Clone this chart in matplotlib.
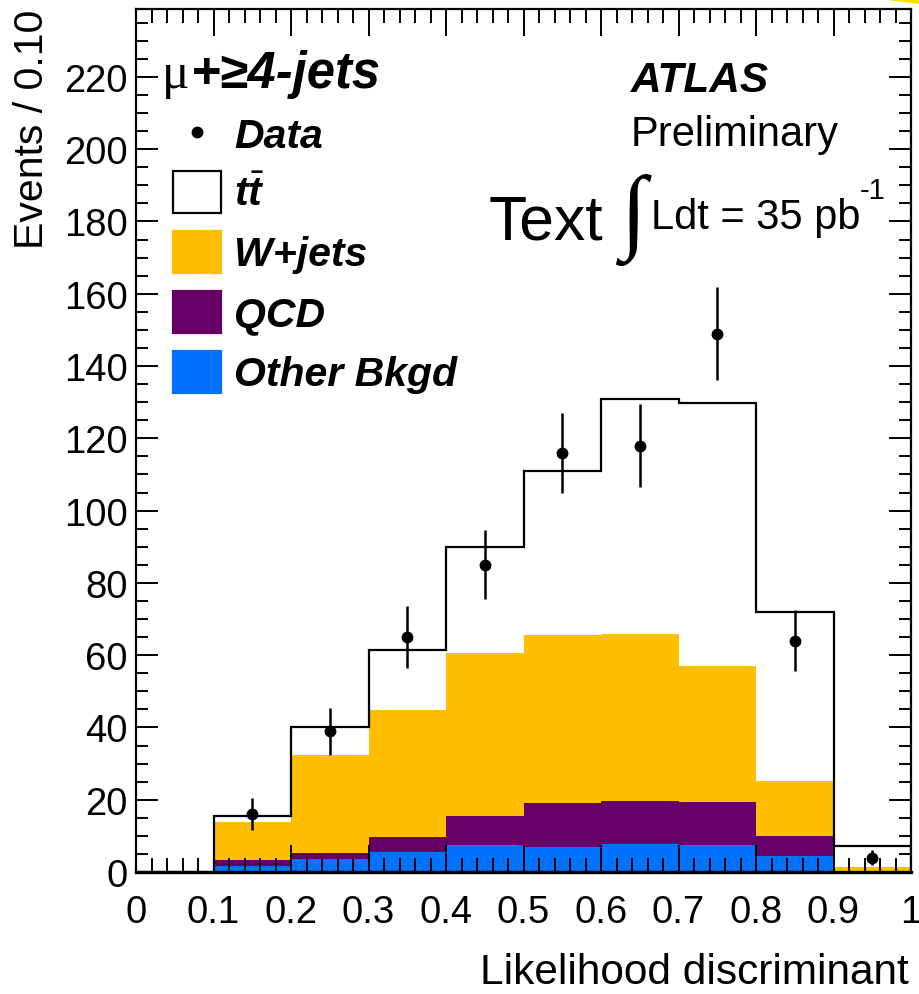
"""Stacked likelihood-discriminant histogram, mu + >=4 jets channel."""

import matplotlib

matplotlib.use("Agg")
import matplotlib.pyplot as plt
import numpy as np
from matplotlib.patches import Polygon, Rectangle
from matplotlib.ticker import FuncFormatter, MultipleLocator

W, H = 919, 995

plt.rcParams["font.family"] = ["Liberation Sans", "DejaVu Sans"]
plt.rcParams["mathtext.fontset"] = "custom"
plt.rcParams["mathtext.rm"] = "Liberation Sans"
plt.rcParams["mathtext.it"] = "Liberation Sans:bold:italic"

# --- data ------------------------------------------------------------------
edges = [0.0, 0.1, 0.2, 0.3, 0.4, 0.5, 0.6, 0.7, 0.8, 0.9, 1.0]
other_bkgd = [0.0, 1.7, 3.6, 5.4, 7.6, 7.0, 7.7, 7.5, 4.5, 0.0]
qcd = [0.0, 1.6, 1.7, 4.2, 8.0, 12.1, 11.9, 11.9, 5.5, 0.0]
wjets = [0.0, 10.5, 27.1, 35.2, 45.0, 46.5, 46.3, 37.6, 15.2, 1.3]
ttbar = [0.0, 1.7, 7.7, 16.6, 29.3, 45.4, 65.0, 72.8, 46.7, 5.9]

data_x = [0.15, 0.25, 0.35, 0.45, 0.55, 0.65, 0.75, 0.85, 0.95]
data_y = [16, 39, 65, 85, 116, 118, 149, 64, 4]
data_err = [4.5, 6.5, 8.5, 9.5, 11.0, 11.5, 12.8, 8.5, 2.0]

legend_labels = ["Data", r"$t\bar{t}$", "W+jets", "QCD", "Other Bkgd"]
colors = {"wjets": "#FFBE00", "qcd": "#660066", "other": "#0072FF"}


def fx(px):
    return px / W


def fy(py):
    return 1 - py / H


fig = plt.figure(figsize=(W / 100, H / 100), dpi=100)
ax = fig.add_axes([fx(136), fy(873), fx(911) - fx(136), fy(10) - fy(873)])

# --- stacked histogram -----------------------------------------------------
lefts = np.array(edges[:-1])
b0 = np.zeros(len(lefts))
ax.bar(lefts, other_bkgd, width=0.1, bottom=b0, align="edge",
       color=colors["other"], linewidth=0, zorder=1)
b1 = b0 + np.array(other_bkgd)
ax.bar(lefts, qcd, width=0.1, bottom=b1, align="edge",
       color=colors["qcd"], linewidth=0, zorder=1)
b2 = b1 + np.array(qcd)
ax.bar(lefts, wjets, width=0.1, bottom=b2, align="edge",
       color=colors["wjets"], linewidth=0, zorder=1)
b3 = b2 + np.array(wjets)
total = b3 + np.array(ttbar)
ax.stairs(total, edges, color="black", linewidth=1.6, zorder=2)

ax.errorbar(data_x, data_y, yerr=data_err, fmt="o", color="black",
            markersize=7.5, elinewidth=1.8, capsize=0, zorder=4)

# --- axes styling ----------------------------------------------------------
ax.set_xlim(0, 1)
ax.set_ylim(0, 238.8)
ax.xaxis.set_major_locator(MultipleLocator(0.1))
ax.xaxis.set_minor_locator(MultipleLocator(0.02))
ax.yaxis.set_major_locator(MultipleLocator(20))
ax.yaxis.set_minor_locator(MultipleLocator(5))
ax.xaxis.set_major_formatter(FuncFormatter(lambda v, _: f"{v:.1f}".rstrip("0").rstrip(".") if v else "0"))
ax.tick_params(axis="both", which="both", direction="in", top=True, right=True,
               width=1.4, labelsize=27.5)
ax.tick_params(axis="x", which="major", length=19.5, pad=16)
ax.tick_params(axis="x", which="minor", length=10)
ax.tick_params(axis="y", which="major", length=16, pad=6)
ax.tick_params(axis="y", which="minor", length=8.6)
for s in ax.spines.values():
    s.set_linewidth(1.6)
ax.spines["bottom"].set_linewidth(2.4)
ax.set_axisbelow(False)

fig.text(fx(32), fy(10), "Events / 0.10", rotation=90, ha="center", va="top",
         fontsize=29.5)
fig.text(fx(909), fy(984), "Likelihood discriminant", ha="right",
         va="baseline", fontsize=30.5)

# --- channel label and legend ---------------------------------------------
fig.text(fx(162), fy(88), "\u03bc", family=["Liberation Serif", "DejaVu Serif"],
         fontsize=37, ha="left", va="baseline")
fig.text(fx(191), fy(88), "+\u22654-jets", fontsize=36.5, fontweight="bold",
         style="italic", ha="left", va="baseline",
         family=["Liberation Sans", "DejaVu Sans"])

fig.add_artist(plt.Line2D([fx(197)], [fy(133)], marker="o", color="black",
                          markersize=7.5, transform=fig.transFigure))
legend_boxes = [
    (172, "white", "black"),
    (232, colors["wjets"], colors["wjets"]),
    (292, colors["qcd"], colors["qcd"]),
    (352, colors["other"], colors["other"]),
]
fig.text(fx(234), fy(148), legend_labels[0], fontsize=29.5, fontweight="bold",
         style="italic", ha="left", va="baseline")
for (top, face, edge), label in zip(legend_boxes, legend_labels[1:]):
    fig.add_artist(Rectangle((fx(173), fy(top + 42)), fx(48), fy(0) - fy(42),
                             facecolor=face, edgecolor=edge, linewidth=1.6,
                             transform=fig.transFigure))
    fig.text(fx(234), fy(top + 34), label, fontsize=29.5, fontweight="bold",
             style="italic", ha="left", va="baseline")

# --- experiment label ------------------------------------------------------
fig.text(fx(631), fy(92), "ATLAS", fontsize=30.5, fontweight="bold",
         style="italic", ha="left", va="baseline")
fig.text(fx(631), fy(146), "Preliminary", fontsize=30, ha="left", va="baseline")
fig.text(fx(489), fy(239), "Text", fontsize=45, ha="left", va="baseline")
fig.text(fx(634), fy(220), "\u222b", family=["Liberation Serif", "DejaVu Serif"],
         fontsize=68, ha="center", va="center")
fig.text(fx(651), fy(229), "Ldt = 35 pb", fontsize=30, ha="left", va="baseline")
fig.text(fx(860), fy(199), "-1", fontsize=21, ha="left", va="baseline")

# small folded-corner accent at the top right
fig.add_artist(Polygon([[fx(880), fy(0)], [fx(919), fy(0)], [fx(919), fy(5)]],
                       closed=True, facecolor="#F5E400", edgecolor="none",
                       transform=fig.transFigure))

fig.savefig("out.png", dpi=100)
